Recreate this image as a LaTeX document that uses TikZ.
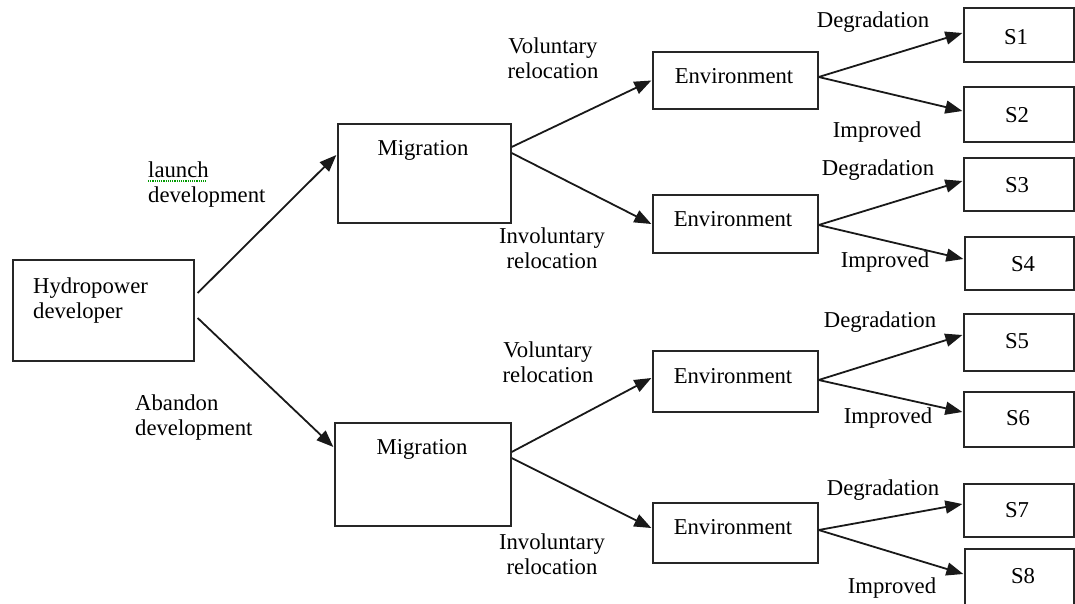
\documentclass[tikz,border=0pt]{standalone}
\usepackage{fontspec}
\setmainfont{Liberation Serif}
\usetikzlibrary{arrows.meta,calc}
\newcommand\twoc[2]{\begin{tabular}[t]{@{}c@{}}#1\\#2\end{tabular}}
\newcommand\twol[2]{\begin{tabular}[t]{@{}l@{}}#1\\#2\end{tabular}}
\begin{document}
\begin{tikzpicture}[x=1pt,y=-1pt,
  bx/.style 2 args={draw=black!85, line width=1.3pt, minimum width=#1, minimum height=#2, inner sep=0pt},
  txt/.style={font=\fontsize{22.7}{25.5}\selectfont, inner sep=0pt, anchor=base, text=black},
  arr/.style={-{Triangle[length=17pt,width=13pt]}, line width=1.8pt, draw=black!90}]
\useasboundingbox (0,0) rectangle (1075,603);
\clip (0,0) rectangle (1075,603);
% boxes
\node[bx={181pt}{101pt}] (hyd) at (103.5,310.5) {};
\node[bx={173pt}{99pt}] (m1) at (424.5,173.5) {};
\node[bx={176pt}{103pt}] (m2) at (423,474.5) {};
\node[bx={165pt}{57pt}] (e1) at (735.5,80.5) {};
\node[bx={165pt}{58pt}] (e2) at (735.5,224) {};
\node[bx={165pt}{61pt}] (e3) at (735.5,381.5) {};
\node[bx={165pt}{60pt}] (e4) at (735.5,533) {};
\node[bx={110pt}{54pt}] (s1) at (1019,35) {};
\node[bx={110pt}{55pt}] (s2) at (1019,114.5) {};
\node[bx={110pt}{53pt}] (s3) at (1019,184.5) {};
\node[bx={109pt}{53pt}] (s4) at (1019.5,263.5) {};
\node[bx={110pt}{57pt}] (s5) at (1019,342.5) {};
\node[bx={110pt}{55pt}] (s6) at (1019,419.5) {};
\node[bx={110pt}{53pt}] (s7) at (1019,510.5) {};
\node[bx={109pt}{63pt}] (s8) at (1019.5,580.5) {};
% box texts
\node[txt, anchor=base west] (hydt) at (33,293) {\twol{Hydropower}{developer}};
\node[txt] (m1t) at (423,155) {Migration};
\node[txt] (m2t) at (422,454) {Migration};
\node[txt] (e1t) at (734,83) {Environment};
\node[txt] (e2t) at (733,226) {Environment};
\node[txt] (e3t) at (733,383) {Environment};
\node[txt] (e4t) at (733,534) {Environment};
\node[txt] (s1t) at (1016,44) {S1};
\node[txt] (s2t) at (1017,122) {S2};
\node[txt] (s3t) at (1017,192) {S3};
\node[txt] (s4t) at (1023,271) {S4};
\node[txt] (s5t) at (1017,348) {S5};
\node[txt] (s6t) at (1018,425) {S6};
\node[txt] (s7t) at (1017,517) {S7};
\node[txt] (s8t) at (1023,583) {S8};
% connectors
\draw[arr] ($(hyd.east)+(3,-17.5)$) -- ($(m1.west)+(-1,-18.5)$);
\draw[arr] ($(hyd.east)+(3,7.5)$) -- ($(m2.west)+(-1,-27.5)$);
\draw[arr] ($(m1.east)+(0,-26.5)$) -- ($(e1.west)+(-1,0)$);
\draw[arr] ($(m1.east)+(0,-20.5)$) -- ($(e2.west)+(-1,0)$);
\draw[arr] ($(m2.east)+(0,-22.5)$) -- ($(e3.west)+(-1,-3.5)$);
\draw[arr] ($(m2.east)+(0,-16.5)$) -- ($(e4.west)+(-1,-5)$);
\draw[arr] ($(e1.east)+(0,-3.5)$) -- ($(s1.west)+(-1,-2)$);
\draw[arr] ($(e1.east)+(0,-3.5)$) -- ($(s2.west)+(-1,-3.5)$);
\draw[arr] ($(e2.east)+(0,1)$) -- ($(s3.west)+(-1,-3.5)$);
\draw[arr] ($(e2.east)+(0,1)$) -- ($(s4.west)+(-1,-4.5)$);
\draw[arr] ($(e3.east)+(0,-1.5)$) -- ($(s5.west)+(-1,-7.5)$);
\draw[arr] ($(e3.east)+(0,-1.5)$) -- ($(s6.west)+(-1,-7.5)$);
\draw[arr] ($(e4.east)+(0,-3)$) -- ($(s7.west)+(-1,-6.5)$);
\draw[arr] ($(e4.east)+(0,-3)$) -- ($(s8.west)+(-1,-6.5)$);
% connector labels
\node[txt, anchor=base west] (l1) at (148,177) {\twol{launch}{development}};
\draw[green!60!black, densely dotted, line width=1.2pt] (148,181) -- (207,181);
\node[txt, anchor=base west] (l2) at (135,410) {\twol{Abandon}{development}};
\node[txt] (v1) at (553,53) {\twoc{Voluntary}{relocation}};
\node[txt] (i1) at (552,243) {\twoc{Involuntary}{relocation}};
\node[txt] (v2) at (548,357) {\twoc{Voluntary}{relocation}};
\node[txt] (i2) at (552,549) {\twoc{Involuntary}{relocation}};
\node[txt] (d1) at (873,27) {Degradation};
\node[txt] (p1) at (877,137) {Improved};
\node[txt] (d2) at (878,175) {Degradation};
\node[txt] (p2) at (885,267) {Improved};
\node[txt] (d3) at (880,327) {Degradation};
\node[txt] (p3) at (888,423) {Improved};
\node[txt] (d4) at (883,495) {Degradation};
\node[txt] (p4) at (892,593) {Improved};
\end{tikzpicture}
\end{document}
